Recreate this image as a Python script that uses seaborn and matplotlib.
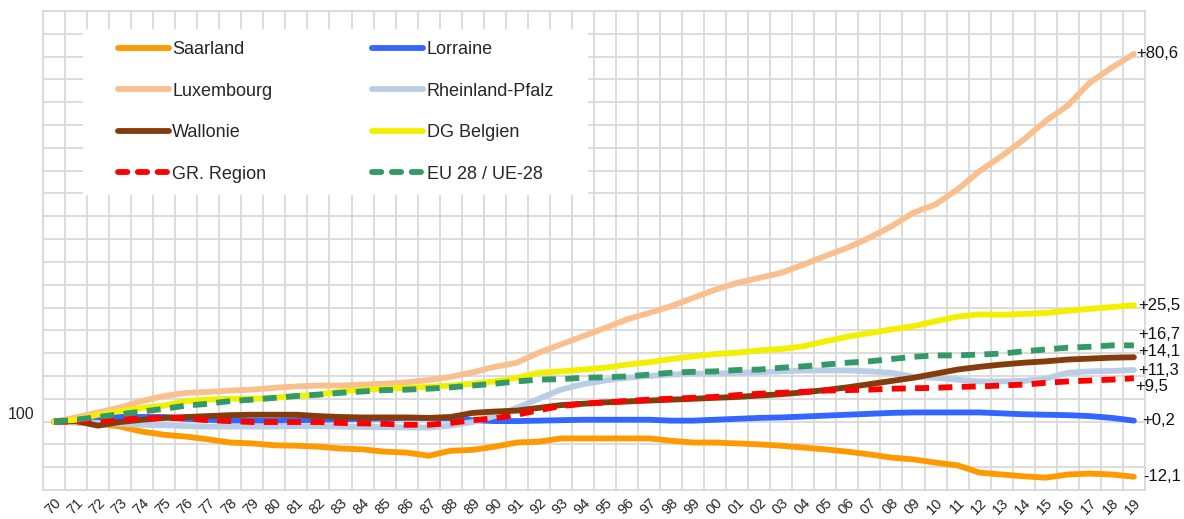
import numpy as np
import pandas as pd
import matplotlib
matplotlib.use('Agg')
import matplotlib.pyplot as plt
from matplotlib.lines import Line2D
from matplotlib.patches import Rectangle
import seaborn as sns

years = list(range(1970, 2020))
year_labels = [str(y)[2:] for y in years]

saarland = [100.0, 99.8, 99.6, 98.9, 97.8, 97.1, 96.7, 96.1, 95.4, 95.2,
            94.8, 94.7, 94.5, 94.1, 93.9, 93.4, 93.2, 92.5, 93.6, 93.8,
            94.5, 95.4, 95.6, 96.3, 96.3, 96.3, 96.3, 96.3, 95.8, 95.4,
            95.4, 95.2, 95.0, 94.7, 94.3, 93.9, 93.4, 92.8, 92.1, 91.7,
            91.0, 90.4, 88.8, 88.4, 88.0, 87.7, 88.4, 88.6, 88.4, 87.9]
lorraine = [100.0, 100.5, 100.8, 101.0, 101.0, 101.0, 100.6, 100.4, 100.2, 100.2,
            100.2, 100.3, 100.4, 100.5, 100.6, 100.7, 100.8, 100.8, 100.7, 100.3,
            100.1, 100.1, 100.2, 100.3, 100.4, 100.4, 100.4, 100.4, 100.2, 100.2,
            100.4, 100.6, 100.8, 100.9, 101.1, 101.3, 101.5, 101.7, 101.9, 102.0,
            102.0, 102.0, 102.0, 101.8, 101.6, 101.5, 101.4, 101.2, 100.8, 100.2]
luxembourg = [100.0, 100.9, 102.0, 103.1, 104.5, 105.6, 106.3, 106.5, 106.8, 107.0,
              107.4, 107.7, 107.9, 107.9, 108.1, 108.3, 108.6, 109.1, 109.8, 110.8,
              112.0, 112.9, 115.1, 116.9, 118.7, 120.5, 122.4, 123.8, 125.3, 127.1,
              128.9, 130.4, 131.5, 132.6, 134.4, 136.3, 138.1, 140.3, 142.8, 145.8,
              147.6, 150.9, 154.9, 158.2, 161.8, 165.9, 169.3, 174.3, 177.6, 180.6]
rheinland = [100.0, 99.9, 99.7, 99.5, 99.3, 99.2, 99.0, 98.9, 98.9, 98.9,
             98.9, 99.0, 99.0, 98.9, 98.8, 98.8, 98.7, 98.7, 99.1, 99.9,
             101.2, 103.0, 105.0, 107.0, 108.2, 109.0, 109.6, 110.0, 110.3, 110.5,
             110.5, 110.7, 110.8, 111.0, 111.2, 111.2, 111.2, 111.0, 110.7, 109.8,
             109.6, 109.2, 108.8, 108.8, 108.9, 109.4, 110.7, 111.0, 111.1, 111.3]
wallonie = [100.0, 100.1, 99.1, 99.9, 100.4, 100.8, 101.0, 101.2, 101.4, 101.5,
            101.5, 101.5, 101.2, 101.0, 100.9, 100.9, 100.9, 100.8, 101.0, 101.9,
            102.2, 102.4, 103.0, 103.6, 103.9, 104.2, 104.4, 104.6, 104.8, 105.0,
            105.2, 105.4, 105.7, 106.0, 106.4, 106.9, 107.5, 108.2, 108.9, 109.6,
            110.5, 111.4, 112.0, 112.5, 112.9, 113.2, 113.6, 113.8, 114.0, 114.1]
dg_belgien = [100.0, 100.4, 101.5, 102.3, 103.0, 103.5, 104.5, 104.8, 105.0, 105.0,
              105.2, 105.6, 105.9, 106.6, 107.0, 107.2, 107.4, 107.6, 107.9, 108.3,
              108.8, 109.6, 110.7, 111.0, 111.4, 111.8, 112.5, 113.0, 113.7, 114.3,
              114.8, 115.1, 115.6, 115.9, 116.5, 117.6, 118.6, 119.4, 120.2, 120.9,
              122.0, 123.0, 123.5, 123.4, 123.6, 123.8, 124.3, 124.7, 125.1, 125.5]
gr_region = [100.0, 100.0, 100.2, 100.4, 100.7, 100.8, 100.7, 100.3, 100.1, 99.9,
             99.9, 99.9, 99.9, 99.7, 99.6, 99.5, 99.3, 99.3, 99.7, 100.3,
             100.7, 101.5, 102.5, 103.4, 103.9, 104.2, 104.5, 104.8, 105.0, 105.2,
             105.4, 105.8, 106.1, 106.3, 106.5, 106.8, 106.9, 107.0, 107.2, 107.3,
             107.4, 107.6, 107.7, 107.9, 108.1, 108.5, 108.8, 109.0, 109.2, 109.5]
eu28 = [100.0, 100.4, np.nan, np.nan, np.nan, 102.8, 103.5, 103.9, 104.5, 104.8,
        105.2, 105.6, 105.9, 106.3, 106.6, 106.9, 107.0, 107.2, 107.5, 107.9,
        108.3, 108.8, 109.2, 109.3, 109.6, 109.7, 109.9, 110.3, 110.7, 110.9,
        111.0, 111.3, 111.4, 111.8, 112.1, 112.5, 112.9, 113.2, 113.7, 114.2,
        114.5, 114.5, 114.7, 114.9, 115.4, 115.8, 116.2, 116.4, 116.7, 116.7]

series = [
    ('Saarland', saarland, '#FF9900', None),
    ('Lorraine', lorraine, '#3366FF', None),
    ('Luxembourg', luxembourg, '#FABF8F', None),
    ('Rheinland-Pfalz', rheinland, '#B9CDE5', None),
    ('Wallonie', wallonie, '#843C0C', None),
    ('DG Belgien', dg_belgien, '#F2F000', None),
    ('GR. Region', gr_region, '#FF0000', (2.4, 1.6)),
    ('EU 28 / UE-28', eu28, '#339966', (2.4, 1.6)),
]

end_labels = {'Saarland': ('-12,1', 7, 0), 'Lorraine': ('+0,2', 6, 0),
              'Luxembourg': ('+80,6', 2, 0), 'Rheinland-Pfalz': ('+11,3', 3, 0),
              'Wallonie': ('+14,1', 3, 4), 'DG Belgien': ('+25,5', 3, 0),
              'GR. Region': ('+9,5', 1, -6), 'EU 28 / UE-28': ('+16,7', 3, 8)}

sns.set_style('white')
plt.rcParams['font.family'] = ['Liberation Sans', 'DejaVu Sans']

fig = plt.figure(figsize=(11.84, 5.19), dpi=100)
ax = fig.add_axes([0.0363, 0.0559, 0.9307, 0.9229])

x = np.arange(len(years))
for name, vals, color, dash in series:
    v = np.array(vals, dtype=float)
    if dash is None:
        ax.plot(x, v, color=color, lw=4.2, solid_capstyle='round', zorder=3)
    else:
        sns.lineplot(x=x, y=v, color=color, lw=4.2, ax=ax, zorder=3)
        ax.lines[-1].set_dashes(dash)
    lab, dx, dy = end_labels[name]
    ax.annotate(lab, (x[-1], v[-1]), xytext=(dx, dy), textcoords='offset points',
                ha='left', va='center', fontsize=12, color='#111111',
                annotation_clip=False)

ax.set_xlim(-0.5, len(years) - 0.5)
ax.set_ylim(85, 190)
ax.set_xticks(x)
ax.set_xticklabels(year_labels, rotation=45, ha='right', rotation_mode='anchor',
                   fontsize=10.5)
ax.set_xticks(np.arange(len(years) + 1) - 0.5, minor=True)
ax.set_yticks(np.arange(85, 191, 5))
ax.set_yticklabels(['100' if t == 100 else '' for t in range(85, 191, 5)],
                   fontsize=11.5, va='bottom')
ax.tick_params(axis='x', which='major', length=0, pad=4)
ax.tick_params(axis='x', which='minor', length=3, color='#D9D9D9', width=1.3)
ax.tick_params(axis='y', length=0, pad=6)
ax.grid(False)
ax.grid(True, axis='x', which='minor', color='#D9D9D9', lw=1.3)
ax.grid(True, axis='y', which='major', color='#D9D9D9', lw=1.3)
ax.set_axisbelow(True)
for s in ax.spines.values():
    s.set_color('#D9D9D9')
    s.set_linewidth(1.3)
ax.set_xlabel('')
ax.set_ylabel('')

ax.add_patch(Rectangle((0.036, 0.616), 0.4586, 0.346, transform=ax.transAxes,
                       facecolor='white', edgecolor='none', zorder=1.5))

order = [0, 2, 4, 6, 1, 3, 5, 7]
handles = []
labels = []
for i in order:
    name, vals, color, dash = series[i]
    h = Line2D([0], [0], color=color, lw=4.2, solid_capstyle='round',
               dash_capstyle='round')
    if dash is not None:
        h.set_dashes((1.6, 1.8))
    handles.append(h)
    labels.append(name)
leg = ax.legend(handles, labels, ncol=2, loc='upper left',
                bbox_to_anchor=((118 - 43) / 1102, (490 - 41) / 479),
                frameon=False, fontsize=13, handlelength=2.8, handletextpad=0.2,
                columnspacing=5.55, labelspacing=1.36, borderpad=0,
                borderaxespad=0)

fig.savefig('out.png', dpi=100)
